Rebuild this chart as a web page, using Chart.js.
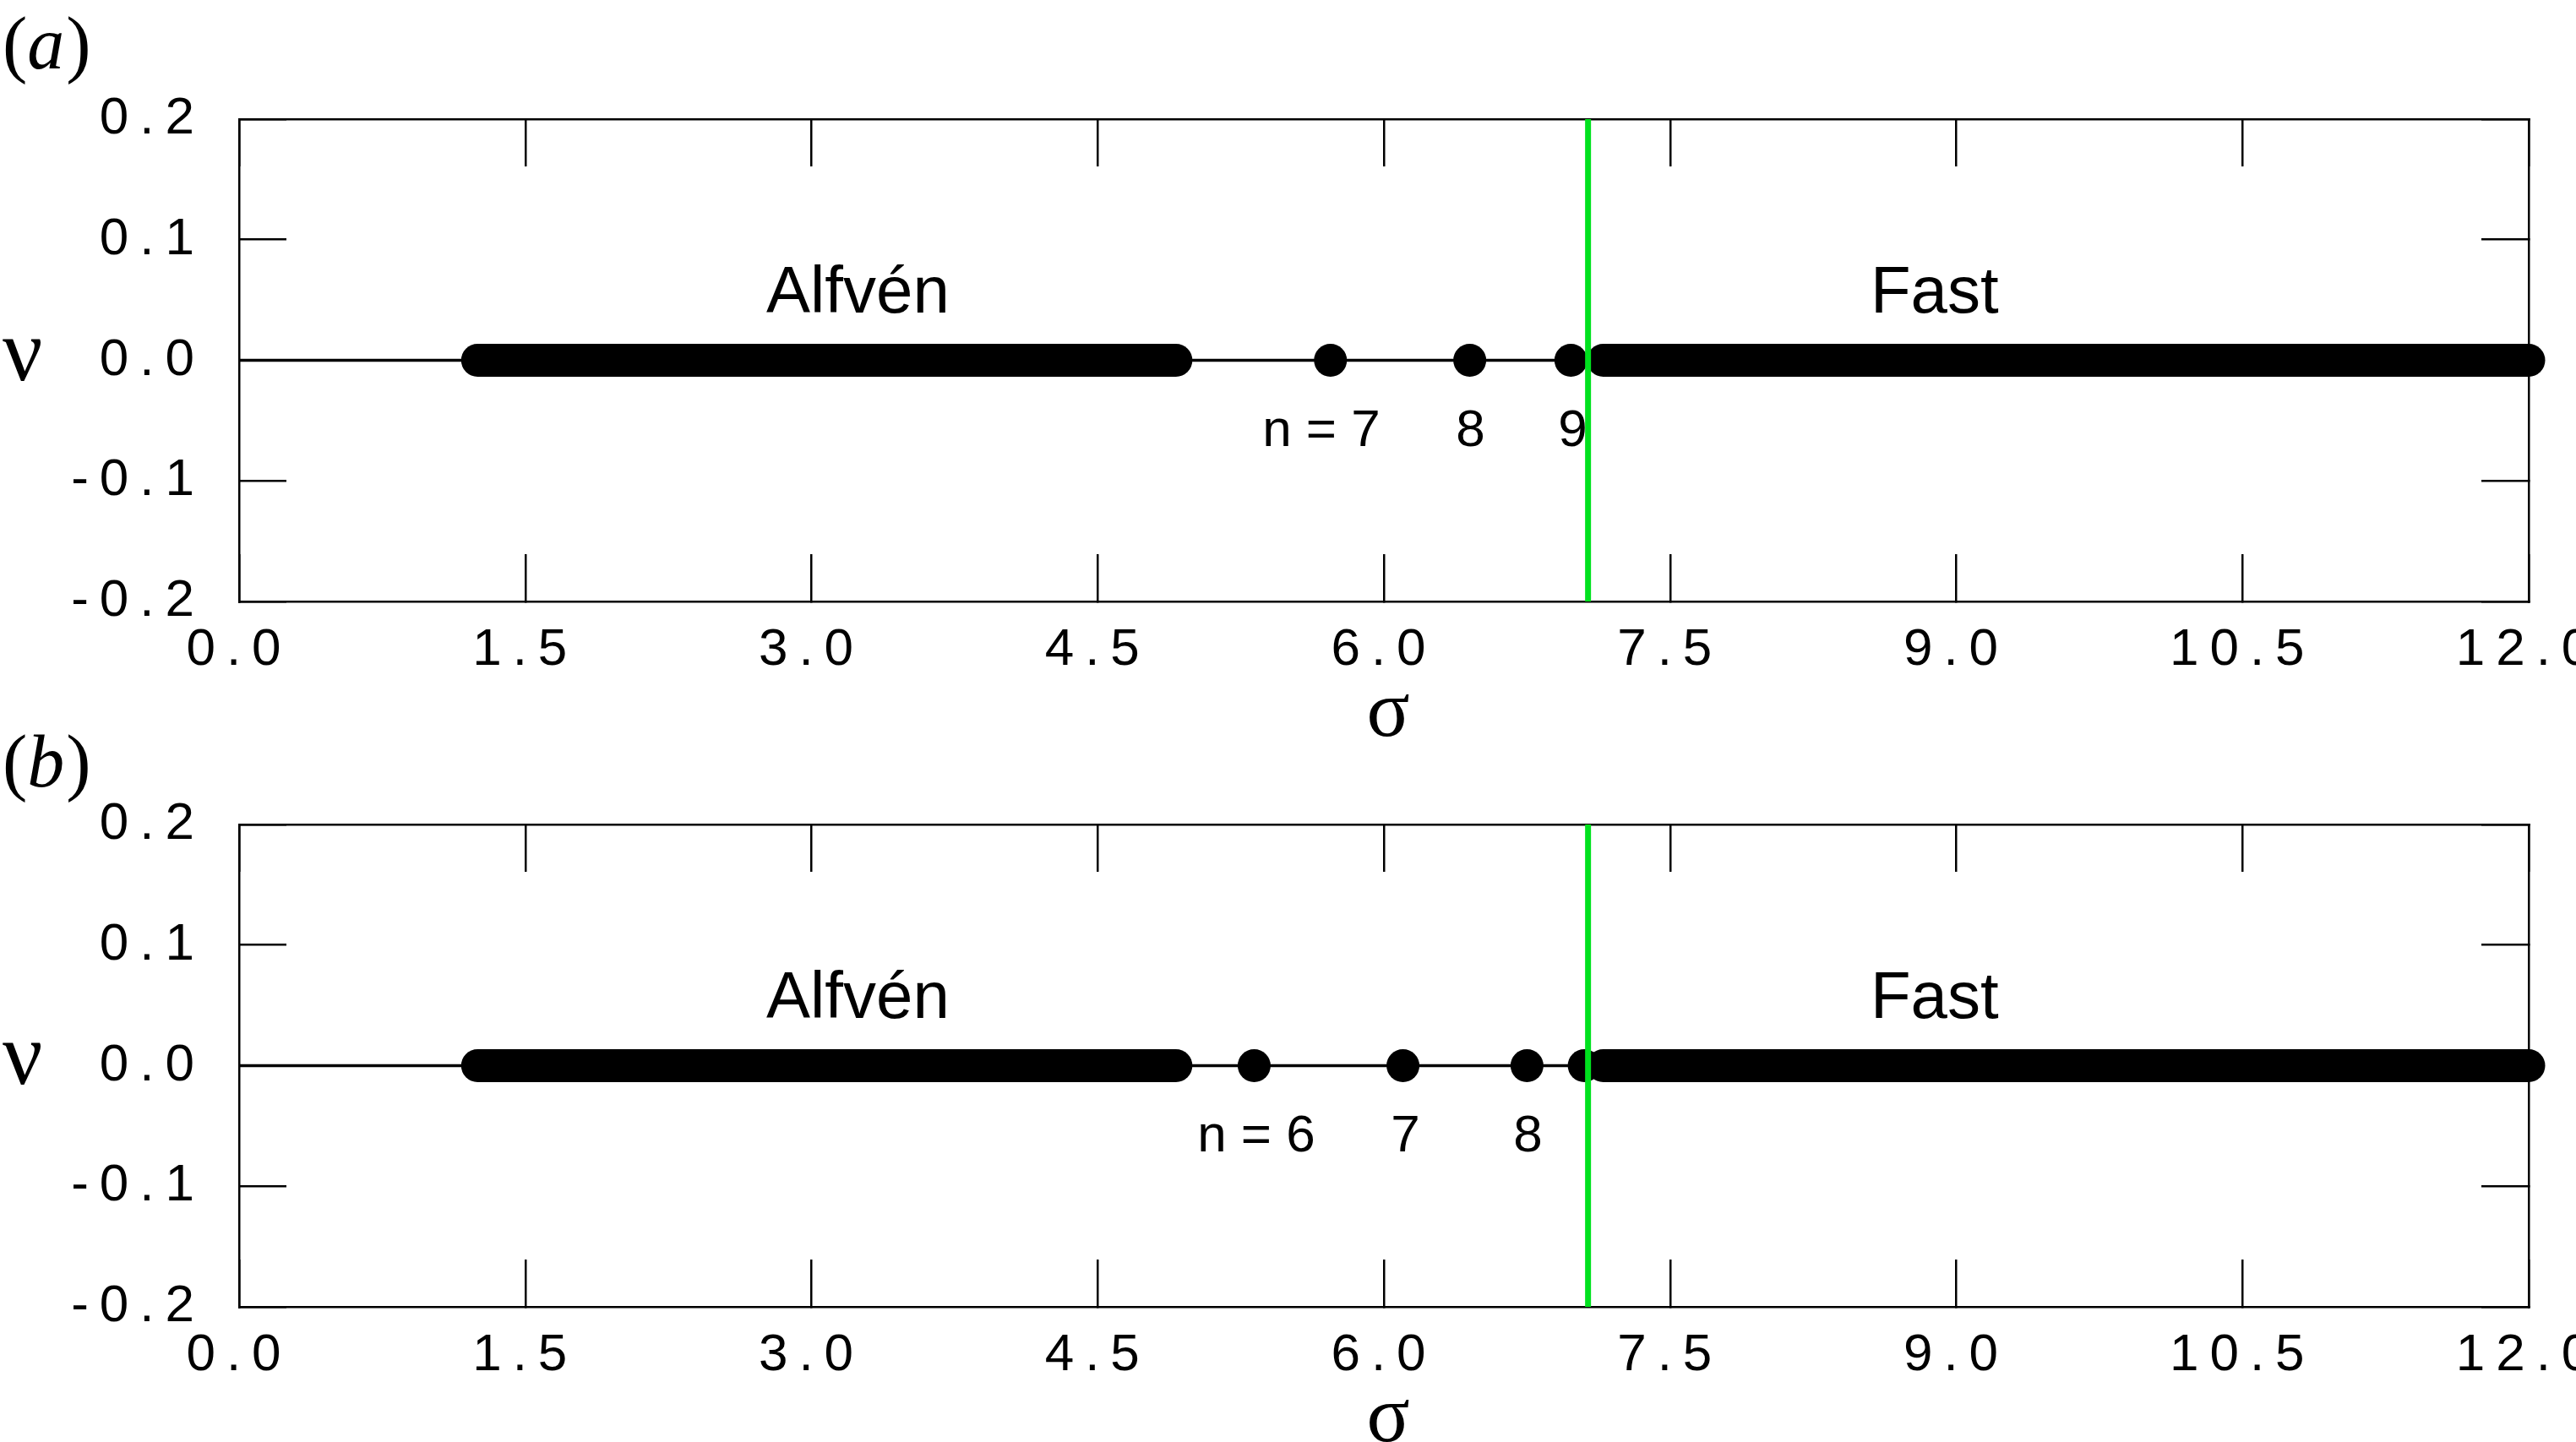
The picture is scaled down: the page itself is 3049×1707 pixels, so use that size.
<!DOCTYPE html>
<html>
<head>
<meta charset="utf-8">
<script src="https://cdn.jsdelivr.net/npm/chart.js@4.4.1/dist/chart.umd.min.js"></script>
<style>
    html, body { margin: 0; padding: 0; background: #fff; overflow: hidden; }
    body { width: 3049px; height: 1707px; position: relative; }
    canvas { position: absolute; left: 0; }
    #chartA { top: 0; }
    #chartB { top: 835px; }
</style>
</head>
<body>
<canvas id="chartA" width="3049" height="910"></canvas>
<canvas id="chartB" width="3049" height="910"></canvas>
<script>
// ==================== Data ====================

const sigmaTicks = [0, 1.5, 3, 4.5, 6, 7.5, 9, 10.5, 12];
const nuTicks = [-0.2, -0.1, 0, 0.1, 0.2];

// panel (a)
const alfvenA = [1.25, 4.91];        // Alfvén continuum, first/last sigma
const fastA = [7.15, 12.0];          // fast continuum, first/last sigma
const modesA = [5.72, 6.45, 6.98];   // discrete eigenvalues
const modeNumbersA = ['7', '8', '9'];
const cutoffA = 7.07;                // green threshold

// panel (b)
const alfvenB = [1.25, 4.91];
const fastB = [7.15, 12.0];
const modesB = [5.32, 6.10, 6.75, 7.05];
const modeNumbersB = ['6', '7', '8'];
const cutoffB = 7.07;

// ==================== Panels ====================

const panels = [
    {
        canvas: 'chartA', tag: 'a', tagBaseline: 81, nuBaseline: 450,
        alfven: alfvenA, fast: fastA, modes: modesA, cutoff: cutoffA,
        modeNumbers: modeNumbersA, numberX: [5.905, 6.454, 6.99]
    },
    {
        canvas: 'chartB', tag: 'b', tagBaseline: 96, nuBaseline: 448,
        alfven: alfvenB, fast: fastB, modes: modesB, cutoff: cutoffB,
        modeNumbers: modeNumbersB, numberX: [5.564, 6.113, 6.755]
    }
];

const BLACK = '#000';
const GREEN = 'rgb(0, 225, 30)';
const TICK_FONT = { family: 'Liberation Sans', size: 62 };

function edgeGrid() {
    return { drawOnChartArea: false, drawTicks: true, tickLength: -56, color: BLACK, lineWidth: 2.5 };
}

function edgeBorder() {
    return { display: true, color: BLACK, width: 2.5 };
}

function fixedTicks(values) {
    return function (scale) {
        scale.ticks = values.map(v => ({ value: v }));
    };
}

function makeChart(p) {
    const annotate = {
        id: 'annotate',
        beforeDraw(chart) {
            // spaced-out tick labels like the original
            chart.ctx.letterSpacing = '13px';
        },
        beforeDatasetsDraw(chart) {
            chart.ctx.letterSpacing = '0px';
        },
        afterDraw(chart) {
            const ctx = chart.ctx;
            const xs = chart.scales.x;
            const ys = chart.scales.y;
            const area = chart.chartArea;
            ctx.save();
            ctx.letterSpacing = '0px';
            ctx.fillStyle = BLACK;

            // continuum names
            ctx.font = '78px "Liberation Sans"';
            ctx.textAlign = 'center';
            ctx.textBaseline = 'middle';
            ctx.fillText('Alfvén', xs.getPixelForValue(3.243), ys.getPixelForValue(0.055));
            ctx.fillText('Fast', xs.getPixelForValue(8.886), ys.getPixelForValue(0.055));

            // mode numbers
            ctx.font = '62px "Liberation Sans"';
            const yLab = ys.getPixelForValue(-0.0592);
            p.modeNumbers.forEach((t, i) => {
                ctx.fillText(t, xs.getPixelForValue(p.numberX[i]), yLab);
            });
            const firstX = xs.getPixelForValue(p.numberX[0]) - ctx.measureText(p.modeNumbers[0]).width / 2;
            ctx.textAlign = 'right';
            ctx.fillText('n = ', firstX, yLab);

            // axis symbol sigma
            ctx.textAlign = 'center';
            ctx.font = '95px "Liberation Serif"';
            ctx.fillText('σ', (area.left + area.right) / 2 + 5, area.bottom + 134);

            // axis symbol nu
            ctx.textAlign = 'left';
            ctx.textBaseline = 'alphabetic';
            ctx.font = '105px "Liberation Serif"';
            ctx.fillText('ν', 3, p.nuBaseline);

            // panel tag (a)/(b)
            let x = 3;
            ctx.font = '88px "Liberation Serif"';
            ctx.fillText('(', x, p.tagBaseline);
            x += ctx.measureText('(').width;
            ctx.font = 'italic 88px "Liberation Serif"';
            ctx.fillText(p.tag, x, p.tagBaseline);
            x += ctx.measureText(p.tag).width + 2;
            ctx.font = '88px "Liberation Serif"';
            ctx.fillText(')', x, p.tagBaseline);
            ctx.restore();
        }
    };

    const onAxis = xs => xs.map(x => ({ x: x, y: 0 }));

    return new Chart(document.getElementById(p.canvas), {
        type: 'scatter',
        data: {
            datasets: [
                {
                    // zero line across the plot
                    data: onAxis([sigmaTicks[0], sigmaTicks[sigmaTicks.length - 1]]),
                    showLine: true, borderColor: BLACK, borderWidth: 3.5,
                    pointRadius: 0, clip: false, order: 5
                },
                {
                    data: onAxis(p.alfven),
                    showLine: true, borderColor: BLACK, borderWidth: 39, borderCapStyle: 'round',
                    pointRadius: 0, clip: false, order: 4
                },
                {
                    data: onAxis(p.fast),
                    showLine: true, borderColor: BLACK, borderWidth: 39, borderCapStyle: 'round',
                    pointRadius: 0, clip: false, order: 4
                },
                {
                    data: onAxis(p.modes),
                    showLine: false, pointRadius: 19.5, pointBackgroundColor: BLACK,
                    pointBorderWidth: 0, clip: false, order: 3
                },
                {
                    data: [{ x: p.cutoff, y: nuTicks[0] }, { x: p.cutoff, y: nuTicks[nuTicks.length - 1] }],
                    showLine: true, borderColor: GREEN, borderWidth: 7,
                    pointRadius: 0, clip: false, order: 1
                }
            ]
        },
        options: {
            responsive: false,
            animation: false,
            devicePixelRatio: 1,
            events: [],
            layout: { padding: { top: 141, right: 56, bottom: 0, left: 0 } },
            plugins: { legend: { display: false }, tooltip: { enabled: false } },
            scales: {
                x: {
                    type: 'linear', position: 'bottom', min: 0, max: 12,
                    afterBuildTicks: fixedTicks(sigmaTicks),
                    ticks: { callback: v => v.toFixed(1), font: TICK_FONT, color: BLACK, padding: 77, maxRotation: 0, autoSkip: false },
                    grid: edgeGrid(),
                    border: edgeBorder(),
                    afterFit: s => { s.height = 198; s.paddingLeft = 0; s.paddingRight = 0; }
                },
                x2: {
                    type: 'linear', axis: 'x', position: 'top', min: 0, max: 12,
                    afterBuildTicks: fixedTicks(sigmaTicks),
                    ticks: { display: false },
                    grid: edgeGrid(),
                    border: edgeBorder(),
                    afterFit: s => { s.height = 0; s.paddingLeft = 0; s.paddingRight = 0; }
                },
                y: {
                    type: 'linear', position: 'left', min: -0.2, max: 0.2,
                    afterBuildTicks: fixedTicks(nuTicks),
                    ticks: { callback: v => v.toFixed(1), font: TICK_FONT, color: BLACK, padding: 96 },
                    grid: edgeGrid(),
                    border: edgeBorder(),
                    afterFit: s => { s.width = 283; s.paddingTop = 0; s.paddingBottom = 0; }
                },
                y2: {
                    type: 'linear', axis: 'y', position: 'right', min: -0.2, max: 0.2,
                    afterBuildTicks: fixedTicks(nuTicks),
                    ticks: { display: false },
                    grid: edgeGrid(),
                    border: edgeBorder(),
                    afterFit: s => { s.width = 0; s.paddingTop = 0; s.paddingBottom = 0; }
                }
            }
        },
        plugins: [annotate]
    });
}

panels.forEach(makeChart);
</script>
</body>
</html>
